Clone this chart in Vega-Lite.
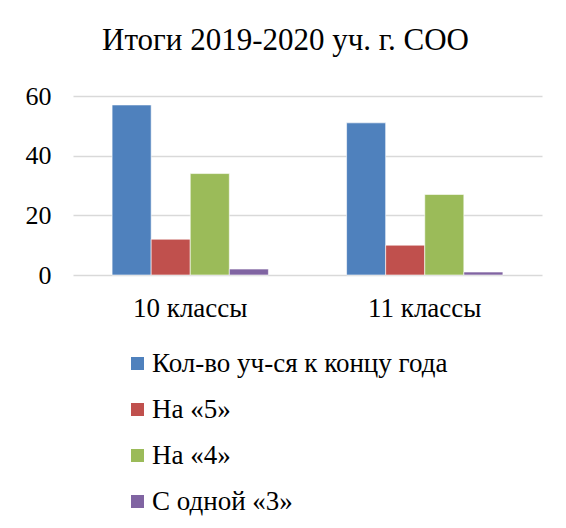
{
  "$schema": "https://vega.github.io/schema/vega-lite/v6.json",
  "autosize": "none",
  "width": 469,
  "height": 179,
  "padding": {"left": 73, "top": 96, "right": 24, "bottom": 253},
  "background": "white",
  "title": {
    "text": "Итоги 2019-2020 уч. г. СОО",
    "font": "Liberation Serif",
    "fontSize": 31,
    "fontWeight": "normal",
    "color": "black",
    "anchor": "middle",
    "dx": -22,
    "offset": 26
  },
  "data": {
    "values": [
      {"cls": "10 классы", "series": "Кол-во уч-ся к концу года", "value": 57},
      {"cls": "10 классы", "series": "На «5»", "value": 12},
      {"cls": "10 классы", "series": "На «4»", "value": 34},
      {"cls": "10 классы", "series": "С одной «3»", "value": 2},
      {"cls": "11 классы", "series": "Кол-во уч-ся к концу года", "value": 51},
      {"cls": "11 классы", "series": "На «5»", "value": 10},
      {"cls": "11 классы", "series": "На «4»", "value": 27},
      {"cls": "11 классы", "series": "С одной «3»", "value": 1}
    ]
  },
  "mark": {"type": "bar", "stroke": "white", "strokeWidth": 0.6},
  "encoding": {
    "x": {
      "field": "cls",
      "type": "nominal",
      "title": null,
      "scale": {"paddingInner": 0, "paddingOuter": 0},
      "axis": {
        "labelAngle": 0,
        "domain": false,
        "ticks": false,
        "labelFont": "Liberation Serif",
        "labelFontSize": 27,
        "labelColor": "black",
        "labelPadding": 20,
        "labelBaseline": "top"
      }
    },
    "xOffset": {
      "field": "series",
      "type": "nominal",
      "sort": ["Кол-во уч-ся к концу года", "На «5»", "На «4»", "С одной «3»"],
      "scale": {"paddingInner": 0, "paddingOuter": 1.1}
    },
    "y": {
      "field": "value",
      "type": "quantitative",
      "title": null,
      "scale": {"domain": [0, 60]},
      "axis": {
        "values": [0, 20, 40, 60],
        "domain": false,
        "ticks": false,
        "gridColor": "#D9D9D9",
        "gridWidth": 1.5,
        "labelFont": "Liberation Serif",
        "labelFontSize": 26,
        "labelColor": "black",
        "labelPadding": 22
      }
    },
    "color": {
      "field": "series",
      "type": "nominal",
      "sort": ["Кол-во уч-ся к концу года", "На «5»", "На «4»", "С одной «3»"],
      "scale": {
        "domain": ["Кол-во уч-ся к концу года", "На «5»", "На «4»", "С одной «3»"],
        "range": ["#4F81BD", "#C0504D", "#9BBB59", "#8064A2"]
      },
      "legend": {
        "title": null,
        "orient": "none",
        "legendX": 51,
        "legendY": 254,
        "direction": "vertical",
        "symbolType": "square",
        "symbolSize": 170,
        "symbolStrokeWidth": 0,
        "labelFont": "Liberation Serif",
        "labelFontSize": 27,
        "labelColor": "black",
        "labelOffset": 1,
        "rowPadding": 18,
        "labelLimit": 500
      }
    }
  },
  "config": {
    "font": "Liberation Serif",
    "view": {"stroke": null}
  }
}
